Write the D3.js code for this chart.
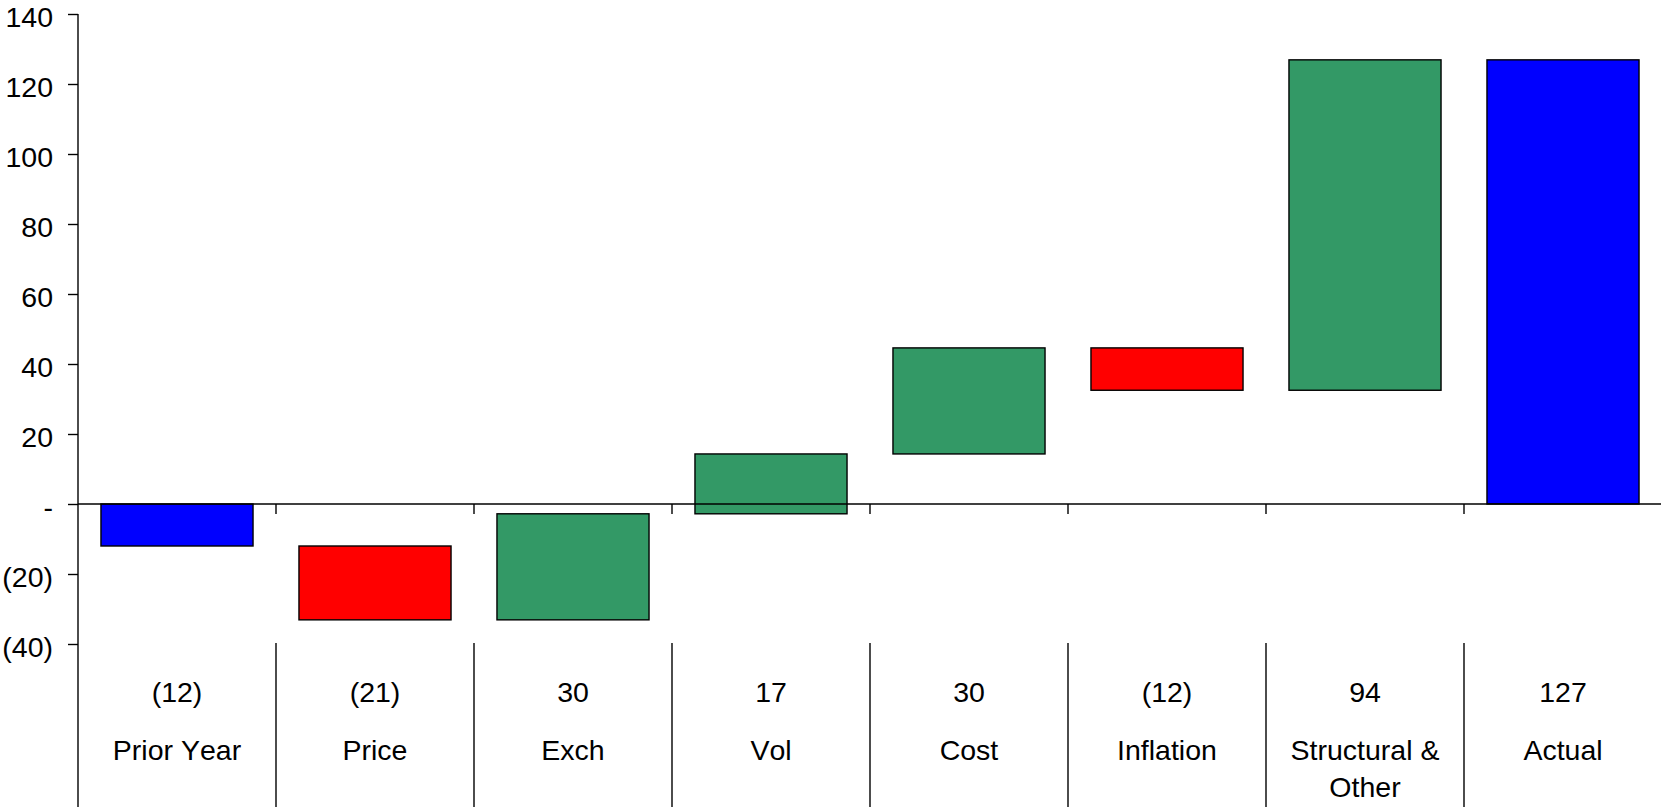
<!DOCTYPE html>
<html>
<head>
<meta charset="utf-8">
<script src="https://cdn.jsdelivr.net/npm/d3@7"></script>
<style>
  html, body { margin: 0; padding: 0; background: #fff; }
  svg { display: block; font-family: "Liberation Sans", Arial, sans-serif; font-kerning: none; }
</style>
</head>
<body>
<svg id="chart" width="1661" height="807"></svg>
<script>
// Bridge categories, in order; multi-line names are split into lines
const categories = ["Prior Year", "Price", "Exch", "Vol", "Cost", "Inflation", "Structural & Other", "Actual"];
const categoryLines = [["Prior Year"], ["Price"], ["Exch"], ["Vol"], ["Cost"], ["Inflation"], ["Structural &", "Other"], ["Actual"]];
// Step values: totals are absolute, deltas move the running total
const values = [-12.0, -21.1, 30.3, 17.1, 30.3, -12.1, 94.4, 126.9];
const kinds = ["total", "delta", "delta", "delta", "delta", "delta", "delta", "total"];
// Y-axis tick values
const yTicks = [-40, -20, 0, 20, 40, 60, 80, 100, 120, 140];

const W = 1661, H = 807;
const left = 78, right = 1662;
const FS = 28.5;
const svg = d3.select("#chart");

const x = d3.scaleBand()
  .domain(categories)
  .range([left, right])
  .paddingInner(0.232)
  .paddingOuter(0.116);

const y = d3.scaleLinear().domain([-40, 140]).range([644, 14]);

const fmt = v => {
  const r = Math.round(Math.abs(v));
  if (r === 0) return "-";
  return v < 0 ? "(" + r + ")" : String(r);
};

// Build waterfall segments
let running = 0;
const segs = categories.map((c, i) => {
  let y0, y1;
  if (kinds[i] === "total") {
    y0 = 0; y1 = values[i]; running = values[i];
  } else {
    y0 = running; y1 = running + values[i]; running = y1;
  }
  const color = kinds[i] === "total" ? "#0000ff" : (values[i] < 0 ? "#ff0000" : "#339966");
  return { c, y0, y1, color, v: values[i], lines: categoryLines[i] };
});

// Y axis
const yAxis = d3.axisLeft(y)
  .tickValues(yTicks)
  .tickSize(10)
  .tickPadding(15)
  .tickFormat(fmt);

const gy = svg.append("g")
  .attr("transform", `translate(${left},0)`)
  .call(yAxis);
gy.select(".domain").remove();
gy.selectAll(".tick line").attr("stroke", "#000").attr("stroke-width", 1.4);
gy.selectAll(".tick text")
  .attr("font-size", FS)
  .attr("fill", "#000")
  .attr("dy", "0.44em");

// Bars
svg.append("g").selectAll("rect")
  .data(segs)
  .join("rect")
  .attr("x", d => x(d.c))
  .attr("width", x.bandwidth())
  .attr("y", d => y(Math.max(d.y0, d.y1)))
  .attr("height", d => Math.abs(y(d.y0) - y(d.y1)))
  .attr("fill", d => d.color)
  .attr("stroke", "#000")
  .attr("stroke-width", 1.4);

// Zero baseline with category boundary ticks
const step = x.step();
const boundaries = d3.range(1, categories.length).map(i => left + i * step);
svg.append("line")
  .attr("x1", left).attr("x2", W)
  .attr("y1", y(0)).attr("y2", y(0))
  .attr("stroke", "#000").attr("stroke-width", 1.4);
svg.append("g").selectAll("line")
  .data(boundaries)
  .join("line")
  .attr("x1", d => d).attr("x2", d => d)
  .attr("y1", y(0)).attr("y2", y(0) + 10)
  .attr("stroke", "#000").attr("stroke-width", 1.4);

// Left vertical rule running through the table area
svg.append("line")
  .attr("x1", left).attr("x2", left)
  .attr("y1", y(140)).attr("y2", H)
  .attr("stroke", "#000").attr("stroke-width", 1.4);

// Table separators under the chart
svg.append("g").selectAll("line")
  .data(boundaries)
  .join("line")
  .attr("x1", d => d).attr("x2", d => d)
  .attr("y1", y(-40) - 1).attr("y2", H)
  .attr("stroke", "#000").attr("stroke-width", 1.4);

// Value row
svg.append("g").selectAll("text")
  .data(segs)
  .join("text")
  .attr("x", d => x(d.c) + x.bandwidth() / 2)
  .attr("y", 702)
  .attr("text-anchor", "middle")
  .attr("font-size", FS)
  .attr("fill", "#000")
  .text(d => fmt(d.v));

// Category row
const cat = svg.append("g").selectAll("text")
  .data(segs)
  .join("text")
  .attr("x", d => x(d.c) + x.bandwidth() / 2)
  .attr("y", 760)
  .attr("text-anchor", "middle")
  .attr("font-size", FS)
  .attr("fill", "#000");
cat.selectAll("tspan")
  .data(d => d.lines.map(t => ({ t, cx: x(d.c) + x.bandwidth() / 2 })))
  .join("tspan")
  .attr("x", d => d.cx)
  .attr("dy", (d, i) => i === 0 ? 0 : 37)
  .text(d => d.t);
</script>
</body>
</html>
